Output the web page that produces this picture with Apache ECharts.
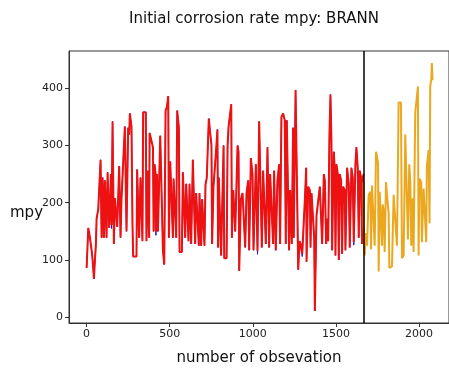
<!DOCTYPE html>
<html>
<head>
<meta charset="utf-8">
<script src="https://cdn.jsdelivr.net/npm/echarts@6/dist/echarts.min.js"></script>
<style>html,body{margin:0;padding:0;background:#fff}#c{width:449px;height:371px}</style>
</head>
<body>
<div id="c"></div>
<script>
// Training-period prediction (red), observation index / mpy
var trainPred = [
[0,86],[4,89],[10,156],[20,139],[30,117],[36,100],[44,67],[50,100],[56,128],[60,172],[70,189],
[84,275],[90,139],[96,244],[104,139],[110,239],[120,139],[126,253],[136,156],[146,250],[150,161],
[156,342],[164,128],[170,208],[180,206],[184,158],[196,264],[204,139],[210,208],[220,206],[230,333],
[240,150],[250,331],[256,319],[260,356],[270,333],[276,161],[280,106],[300,106],[304,258],[310,261],
[316,139],[324,244],[330,244],[336,133],[340,358],[356,358],[360,133],[370,256],[376,139],
[379,322],[399,297],[403,150],[409,267],[415,250],[417,150],[423,250],[429,150],[443,317],[455,317],
[459,117],[467,92],[475,361],[483,367],[491,386],[495,139],[503,272],[513,272],[519,139],[523,242],
[535,242],[539,139],[545,361],[555,331],[559,114],[573,114],[579,253],[589,253],[593,139],[599,233],
[609,233],[613,133],[619,233],[629,128],[639,275],[649,275],[653,128],[659,217],[669,217],[675,125],
[679,217],[689,125],[695,206],[705,206],[709,125],[715,231],[723,244],[735,347],[745,347],[751,300],
[755,128],[763,228],[773,228],[779,292],[787,328],[791,122],[795,244],[803,244],[809,108],[815,108],
[824,300],[828,103],[842,103],[848,300],[854,333],[862,333],[870,372],[874,139],[882,222],[888,189],
[894,150],[908,300],[914,289],[918,81],[928,206],[938,217],[948,219],[954,122],[962,217],[972,239],
[978,117],[988,278],[998,250],[1004,117],[1018,267],[1028,116],[1038,342],[1048,339],[1054,122],
[1062,256],[1072,256],[1078,128],[1088,297],[1098,122],[1104,250],[1114,250],[1122,128],[1128,256],
[1138,117],[1148,239],[1158,267],[1164,128],[1172,350],[1182,356],[1192,344],[1198,128],[1204,344],
[1214,344],[1218,117],[1224,222],[1234,128],[1242,331],[1246,139],[1257,397],[1269,394],[1273,83],
[1281,133],[1287,128],[1297,111],[1313,206],[1321,261],[1323,97],[1333,228],[1343,222],[1347,122],
[1353,217],[1363,214],[1369,139],[1373,11],[1383,178],[1393,178],[1403,228],[1411,228],[1417,128],
[1427,250],[1433,239],[1441,128],[1447,172],[1453,133],[1461,322],[1467,389],[1473,306],[1477,117],
[1487,289],[1493,256],[1497,108],[1503,267],[1511,250],[1517,100],[1523,250],[1531,239],[1537,111],
[1543,228],[1553,222],[1557,117],[1567,261],[1577,233],[1583,122],[1593,261],[1601,244],[1607,131],
[1617,267],[1623,297],[1631,261],[1637,139],[1643,256],[1651,244],[1657,128],[1661,242],[1666,250]
];
// Actual values (blue) differ from the red curve only at these troughs
var actualDips = [[150,155],[417,143],[1028,110],[1297,106],[1607,126]];
// Test-period prediction (orange)
var testPred = [
[1666,236],[1667,158],[1673,108],[1681,147],[1687,125],[1697,214],[1707,219],[1711,119],[1717,230],
[1727,230],[1733,125],[1741,289],[1747,281],[1753,269],[1757,80],[1763,219],[1771,219],[1777,125],
[1781,197],[1787,186],[1793,114],[1801,236],[1807,214],[1817,181],[1821,86],[1837,89],[1847,214],
[1857,214],[1867,125],[1877,375],[1891,375],[1897,103],[1907,108],[1917,319],[1927,319],[1933,136],
[1941,267],[1947,236],[1953,125],[1961,208],[1967,114],[1977,358],[1993,403],[1997,108],[2003,242],
[2013,236],[2017,131],[2027,225],[2037,225],[2043,131],[2047,264],[2057,292],[2063,164],[2067,403],
[2073,414],[2077,444],[2081,414]
];
var splitIndex = 1666;
var xTicks = [0, 500, 1000, 1500, 2000];
var yTicks = [0, 100, 200, 300, 400];

var actual = trainPred.map(function (p) {
  var dip = actualDips.filter(function (d) { return d[0] === p[0]; })[0];
  return dip ? [dip[0], dip[1]] : [p[0], p[1]];
});

var FONT = 'DejaVu Sans';
var chart = echarts.init(document.getElementById('c'), null, {renderer: 'canvas'});
chart.setOption({
  animation: false,
  backgroundColor: '#fff',
  title: {
    text: 'Initial corrosion rate mpy: BRANN',
    left: 249, top: 7, textAlign: 'center',
    textStyle: {fontFamily: FONT, fontSize: 15, fontWeight: 'normal', color: '#111'}
  },
  grid: {left: 69, right: -2, top: 51, bottom: 35, show: true, borderColor: '#333', borderWidth: 1, backgroundColor: 'transparent'},
  xAxis: {
    type: 'value', min: -106, max: 2180,
    name: 'number of obsevation', nameLocation: 'middle', nameGap: 28,
    nameTextStyle: {fontFamily: FONT, fontSize: 15, color: '#111'},
    axisLine: {show: true, onZero: false, lineStyle: {color: '#333', width: 1}},
    axisTick: {show: true, length: 4, lineStyle: {color: '#333'}, customValues: xTicks},
    axisLabel: {fontFamily: FONT, fontSize: 11, color: '#222', margin: 6, customValues: xTicks,
      formatter: function (v) { return String(v); }},
    splitLine: {show: false}
  },
  yAxis: {
    type: 'value', min: -10, max: 465,
    axisLine: {show: true, onZero: false, lineStyle: {color: '#333', width: 1}},
    axisTick: {show: true, length: 4, lineStyle: {color: '#333'}, customValues: yTicks},
    axisLabel: {fontFamily: FONT, fontSize: 11, color: '#222', margin: 6, customValues: yTicks,
      formatter: function (v) { return String(v); }},
    splitLine: {show: false}
  },
  graphic: [{
    type: 'text', left: 10, top: 206,
    style: {text: 'mpy', fontFamily: FONT, fontSize: 15, fill: '#111'}
  }],
  series: [
    {type: 'line', z: 1, data: actual, showSymbol: false, symbol: 'none', lineStyle: {color: '#1010e0', width: 1}},
    {type: 'line', z: 3, data: trainPred, showSymbol: false, symbol: 'none', lineStyle: {color: '#ee1111', width: 2},
     markLine: {silent: true, symbol: ['none', 'none'], label: {show: false},
       lineStyle: {color: '#000', width: 1.5, type: 'solid'}, data: [{xAxis: splitIndex}]}},
    {type: 'line', z: 3, data: testPred, showSymbol: false, symbol: 'none', lineStyle: {color: '#eba81e', width: 2}}
  ]
});
</script>
</body>
</html>
